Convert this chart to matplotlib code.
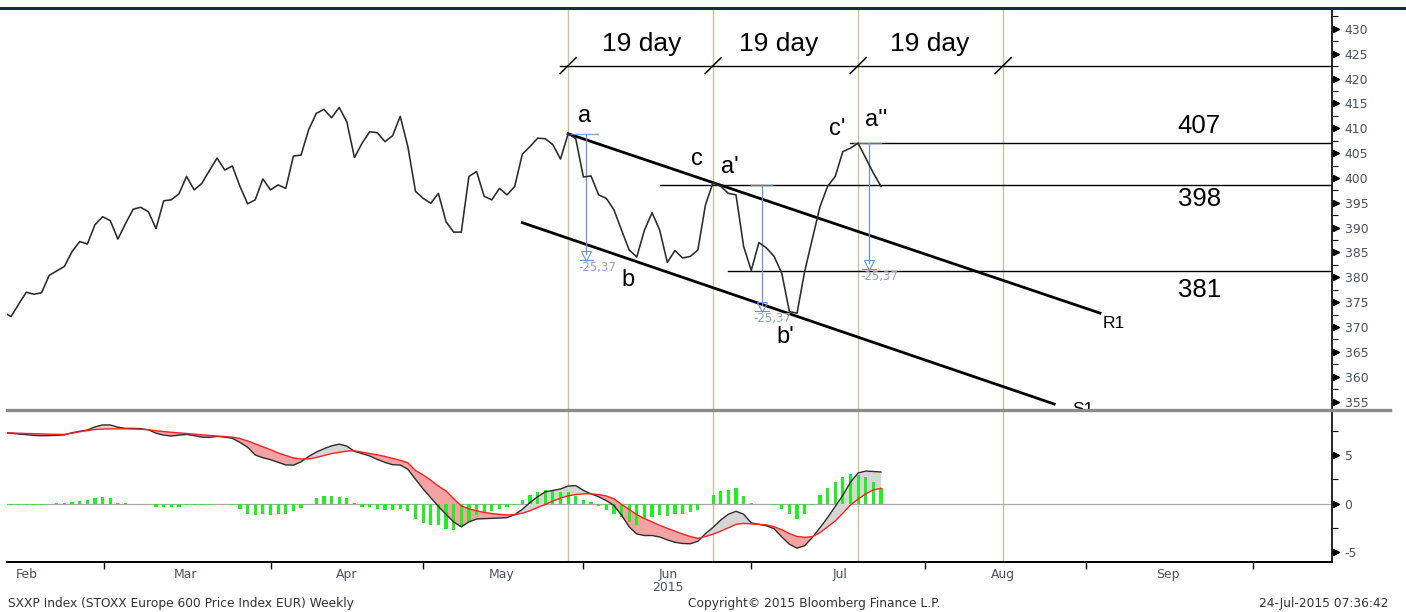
import matplotlib
matplotlib.use('Agg')
import matplotlib.pyplot as plt
import numpy as np
from matplotlib.lines import Line2D
from matplotlib.patches import Rectangle
from matplotlib.ticker import MultipleLocator, FixedLocator, NullFormatter
from matplotlib.transforms import offset_copy

plt.rcParams['axes.unicode_minus'] = False

# ---------------- data (x = trading-day index) ----------------
price = [373.0, 372.1, 374.6, 377.0, 376.6, 376.9, 380.4, 381.3, 382.2, 385.2,
         387.2, 386.7, 390.6, 392.2, 391.4, 387.7, 390.8, 393.7, 394.1, 393.2,
         389.8, 395.4, 395.6, 396.8, 400.3, 397.6, 398.9, 401.5, 404.0, 401.6,
         402.4, 398.3, 394.8, 395.6, 399.8, 397.6, 398.6, 397.9, 404.4, 404.6,
         409.7, 413.0, 413.8, 412.1, 414.2, 411.3, 404.1, 407.0, 409.3, 409.1,
         407.3, 408.5, 412.4, 406.3, 397.3, 395.9, 394.9, 396.9, 391.2, 389.1,
         389.1, 400.3, 401.3, 396.3, 395.6, 397.9, 396.6, 398.3, 404.8, 406.3,
         408.0, 407.9, 406.7, 403.8, 408.9, 407.9, 400.2, 400.4, 396.6, 395.9,
         393.6, 389.5, 385.5, 384.1, 389.5, 393.0, 389.5, 383.0, 385.4, 383.9,
         384.2, 385.5, 394.6, 399.1, 398.3, 396.9, 396.6, 386.2, 381.4, 387.0,
         385.9, 384.2, 380.8, 373.1, 372.8, 381.2, 387.7, 394.2, 398.3, 400.3,
         405.3, 406.0, 407.0, 404.0, 401.0, 398.3]

macd = [7.3, 7.25, 7.17, 7.1, 7.02, 6.99, 7.0, 7.03, 7.08, 7.3,
        7.45, 7.58, 7.9, 8.1, 8.1, 7.87, 7.75, 7.75, 7.72, 7.6,
        7.25, 7.05, 6.96, 7.05, 7.12, 7.0, 6.85, 6.82, 6.92, 6.85,
        6.72, 6.3, 5.8, 5.0, 4.72, 4.52, 4.25, 3.98, 3.95, 4.3,
        4.85, 5.3, 5.65, 5.95, 6.12, 5.92, 5.38, 5.15, 4.9, 4.55,
        4.24, 4.0, 3.97, 3.53, 2.5, 1.5, 0.6, -0.3, -1.1, -1.9,
        -2.4, -1.9, -1.6, -1.56, -1.53, -1.5, -1.45, -1.15, -0.6, 0.1,
        0.7, 1.2, 1.35, 1.5, 1.8, 1.85, 1.35, 1.0, 0.7, 0.3,
        -0.2, -1.2, -2.4, -3.14, -3.3, -3.3, -3.45, -3.75, -4.0, -4.12,
        -4.15, -3.9, -3.1, -2.46, -1.7, -1.1, -0.8, -1.1, -2.0, -2.15,
        -2.3, -2.6, -3.45, -4.2, -4.6, -4.35, -3.5, -2.5, -1.45, -0.3,
        0.85, 2.2, 3.15, 3.35, 3.3, 3.25]

signal = [7.3, 7.28, 7.25, 7.22, 7.2, 7.18, 7.15, 7.13, 7.13, 7.25,
          7.4, 7.52, 7.63, 7.68, 7.7, 7.7, 7.7, 7.68, 7.66, 7.6,
          7.5, 7.42, 7.35, 7.28, 7.22, 7.15, 7.08, 7.02, 6.96, 6.9,
          6.85, 6.7, 6.45, 6.15, 5.85, 5.55, 5.22, 4.95, 4.7, 4.6,
          4.6, 4.75, 4.95, 5.15, 5.28, 5.4, 5.43, 5.3, 5.15, 5.02,
          4.85, 4.65, 4.45, 4.2, 3.4, 2.95, 2.4, 1.8, 1.3, 0.5,
          -0.25, -0.55, -0.75, -0.92, -1.03, -1.12, -1.18, -1.15, -1.0, -0.75,
          -0.4, -0.1, 0.25, 0.55, 0.8, 0.92, 1.0, 1.0, 0.92, 0.78,
          0.5, -0.1, -0.6, -1.15, -1.55, -1.9, -2.25, -2.56, -2.85, -3.15,
          -3.4, -3.59, -3.4, -3.15, -2.85, -2.5, -2.15, -2.05, -2.1, -2.15,
          -2.2, -2.4, -2.7, -3.1, -3.4, -3.48, -3.42, -3.0, -2.4, -1.8,
          -1.0, -0.15, 0.45, 1.0, 1.4, 1.57]

hist = [-0.15, -0.15, -0.15, -0.15, -0.15, -0.15, 0.0, 0.03, 0.08, 0.17,
        0.27, 0.34, 0.52, 0.69, 0.52, 0.1, 0.02, 0.0, 0.0, -0.05,
        -0.41, -0.34, -0.34, -0.34, -0.17, -0.17, -0.17, -0.17, -0.1, -0.1,
        -0.17, -0.52, -1.03, -1.2, -1.1, -1.2, -1.13, -1.1, -0.76, -0.45,
        0.0, 0.52, 0.76, 0.76, 0.69, 0.52, 0.07, -0.34, -0.41, -0.52,
        -0.69, -0.69, -0.58, -0.79, -1.55, -1.96, -2.23, -2.23, -2.58, -2.68,
        -2.34, -1.89, -1.2, -0.86, -0.76, -0.52, -0.34, -0.17, 0.41, 0.86,
        1.2, 1.37, 1.3, 1.2, 1.2, 0.76, 0.41, 0.17, -0.27, -0.62,
        -1.03, -1.37, -1.89, -2.23, -1.55, -1.37, -1.2, -1.31, -1.1, -1.03,
        -0.86, -0.69, 0.0, 0.86, 1.3, 1.44, 1.55, 0.76, 0.03, -0.05,
        -0.1, -0.17, -0.52, -1.03, -1.55, -1.03, -0.17, 0.86, 1.55, 2.23,
        2.75, 3.09, 2.92, 2.75, 2.23, 1.55]

month_labels = ['Feb', 'Mar', 'Apr', 'May', 'Jun\n2015', 'Jul', 'Aug', 'Sep']
month_label_pos = [3.1, 23.8, 45.0, 65.3, 87.1, 109.7, 131.0, 152.6]
month_tick_pos = [13.2, 35.1, 55.0, 76.0, 97.9, 120.8, 141.8, 163.8]

cycle_days = [74, 93, 112, 131]
cycle_text = '19 day'
cycle_text_x = [83.6, 101.6, 121.4]
cycle_level = 422.6

level_values = [407.0, 398.6, 381.3]
level_texts = ['407', '398', '381']
level_text_y = [410.5, 395.8, 377.5]
level_starts = [110.9, 86.05, 94.9]

r1_pts = ([74.0, 143.7], [408.9, 372.8])
s1_pts = ([68.0, 137.7], [391.0, 354.5])

wave_labels = ['a', 'b', 'c', "a'", "b'", "c'", "a''"]
wave_x = [76.1, 81.9, 90.9, 95.2, 102.4, 109.3, 114.4]
wave_y = [412.5, 379.5, 403.8, 402.2, 368.0, 409.9, 411.7]

drop = 25.37
drop_text = '-25,37'
drop_x = [76.4, 99.4, 113.4]
drop_top = [408.9, 398.6, 407.0]
drop_tick = [(74.0, 77.9), (97.9, 100.7), (111.5, 115.0)]

days = np.arange(len(price))
macd = np.array(macd)
signal = np.array(signal)

# ---------------- figure ----------------
W, H = 1406, 612
fig = plt.figure(figsize=(W / 100, H / 100), dpi=100)
fig.patch.set_facecolor('white')


def fx(px):
    return px / W


def fy(py):
    return 1 - py / H


ax1 = fig.add_axes([fx(7), fy(410), fx(1332) - fx(7), (410 - 10) / H])
ax2 = fig.add_axes([fx(7), fy(562), fx(1332) - fx(7), (562 - 411) / H])

XL = (0.47, 174.1)
for ax in (ax1, ax2):
    ax.set_xlim(*XL)
    ax.set_facecolor('none')
    for s in ('left', 'top'):
        ax.spines[s].set_visible(False)
    ax.spines['right'].set_linewidth(1.2)
ax1.spines['bottom'].set_visible(False)
ax2.spines['bottom'].set_linewidth(1.4)

ax1.set_ylim(353.3, 433.8)
ax2.set_ylim(-6.03, 9.54)

LBL = dict(family='Liberation Sans', color='black')
tick_color = '#4b5060'

# cycle vertical lines
for d in cycle_days:
    ax1.axvline(d, color='#c9c3a3', lw=1, zorder=0)
    ax2.axvline(d, color='#c9c3a3', lw=1, zorder=0)

# price
ax1.plot(days, price, color='#2b2b2b', lw=1.15, zorder=3)

# 19 day cycle line with slashes
ax1.plot([72.9, XL[1]], [cycle_level, cycle_level], color='black', lw=1.0)
for d in cycle_days:
    ax1.plot([d - 1.05, d + 1.05], [cycle_level - 1.6, cycle_level + 1.6], color='black', lw=1.1)
for x in cycle_text_x:
    ax1.text(x, 427.0, cycle_text, ha='center', va='center', fontsize=19, **LBL)

# levels
for v, t, ty, s in zip(level_values, level_texts, level_text_y, level_starts):
    ax1.plot([s, XL[1]], [v, v], color='black', lw=1.0)
    ax1.text(156.7, ty, t, ha='center', va='center', fontsize=18.5, **LBL)

# channel
ax1.plot(*r1_pts, color='black', lw=2.0)
ax1.plot(*s1_pts, color='black', lw=2.0)
ax1.text(144.0, 370.8, 'R1', ha='left', va='center', fontsize=12.5, **LBL)
ax1.text(140.1, 353.5, 'S1', ha='left', va='center', fontsize=12.5, clip_on=True, **LBL)

# wave labels
for t, x, y in zip(wave_labels, wave_x, wave_y):
    ax1.text(x, y, t, ha='center', va='center', fontsize=17, **LBL)

# drop measurement markers
blue = '#6d8fdc'
for x, top, (t0, t1) in zip(drop_x, drop_top, drop_tick):
    tip = top - drop
    ax1.plot([t0, t1], [top, top], color=blue, lw=1.0, alpha=0.8)
    ax1.plot([x, x], [top, tip + 1.2], color=blue, lw=0.9)
    ax1.plot([x], [tip + 0.85], marker='v', markersize=7.5, mfc='none', mec=blue, mew=0.8, ls='none')
    ax1.plot([x - 0.9, x + 0.9], [tip, tip], color=blue, lw=0.8)
    ax1.text(x - 1.1, tip - 1.5, drop_text, ha='left', va='center', fontsize=8.5,
             family='DejaVu Sans', color='#8fa2c8')

# y ticks upper
ax1.yaxis.tick_right()
ax1.yaxis.set_major_locator(MultipleLocator(5))
ax1.yaxis.set_minor_locator(MultipleLocator(2.5))
ax1.tick_params(axis='y', which='major', length=0, pad=9, labelsize=8.9, labelcolor=tick_color)
ax1.tick_params(axis='y', which='minor', length=4, width=0.8, direction='out')
ax1.tick_params(axis='x', which='both', bottom=False, labelbottom=False)
up_ticks = np.arange(355, 431, 5)
tr1 = offset_copy(ax1.get_yaxis_transform(), fig=fig, x=3.5, y=0, units='dots')
ax1.plot(np.ones(len(up_ticks)), up_ticks, transform=tr1, marker='>', markersize=4.5,
         color='black', ls='none', clip_on=False)

# lower MACD panel
ax2.axhline(0, color='#a8a8a8', lw=0.9, zorder=1)
ax2.fill_between(days, macd, signal, where=macd >= signal, interpolate=True,
                 color='#d6d6d6', lw=0, zorder=1)
ax2.fill_between(days, macd, signal, where=macd < signal, interpolate=True,
                 color='#f3a3a3', lw=0, zorder=1)
ax2.bar(days, hist, width=0.42, color='#22ee22', zorder=2, lw=0)
ax2.plot(days, macd, color='#2e2e2e', lw=1.0, zorder=3)
ax2.plot(days, signal, color='#ff1f1f', lw=1.0, zorder=3)

ax2.yaxis.tick_right()
ax2.yaxis.set_major_locator(FixedLocator([-5, 0, 5]))
ax2.yaxis.set_minor_locator(FixedLocator([-2.5, 2.5, 7.5]))
ax2.yaxis.set_minor_formatter(NullFormatter())
ax2.tick_params(axis='y', which='major', length=0, pad=9, labelsize=8.9, labelcolor=tick_color)
ax2.tick_params(axis='y', which='minor', length=4, width=0.8, direction='out')
low_ticks = [-5, 0, 5]
tr2 = offset_copy(ax2.get_yaxis_transform(), fig=fig, x=3.5, y=0, units='dots')
ax2.plot(np.ones(len(low_ticks)), low_ticks, transform=tr2, marker='>', markersize=4.5,
         color='black', ls='none', clip_on=False)

ax2.set_xticks(month_tick_pos)
ax2.set_xticklabels([''] * len(month_tick_pos))
ax2.set_xticks(month_label_pos, minor=True)
ax2.set_xticklabels(month_labels, minor=True, fontsize=8.9, color=tick_color,
                    linespacing=1.05, va='top')
ax2.tick_params(axis='x', which='major', length=5, width=1.0, direction='out')
ax2.tick_params(axis='x', which='minor', length=0, pad=4)

# figure decorations
fig.add_artist(Rectangle((0, fy(10)), 1, 3.5 / H, transform=fig.transFigure,
                         color='#0d2b57', lw=0))
fig.add_artist(Line2D([fx(7), fx(1390)], [fy(410), fy(410)], lw=2.4, color='#8c8c8c'))

foot = dict(fontsize=8.8, family='DejaVu Sans', color='#333333', va='center')
fig.text(fx(8), fy(603), 'SXXP Index (STOXX Europe 600 Price Index EUR) Weekly', ha='left', **foot)
fig.text(fx(814), fy(603), 'Copyright\u00a9 2015 Bloomberg Finance L.P.', ha='center', **foot)
fig.text(fx(1388), fy(603), '24-Jul-2015 07:36:42', ha='right', **foot)

fig.savefig('out.png', dpi=100)
